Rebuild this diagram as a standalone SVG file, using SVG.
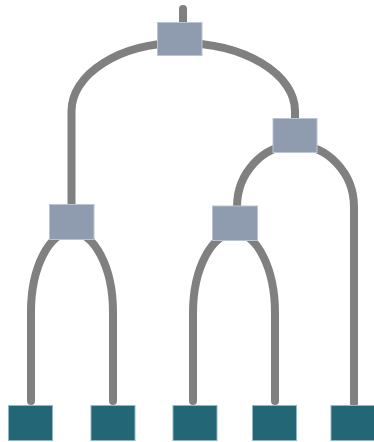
<svg xmlns="http://www.w3.org/2000/svg" width="374" height="442" viewBox="0 0 374 442">
<style>
.edge{fill:none;stroke:#808080;stroke-width:8;stroke-linecap:round}
.inner{fill:#8f9bae;stroke:#bcc4d2;stroke-width:1}
.leaf{fill:#236676;stroke:#8fb8c4;stroke-width:1}
</style>
<rect width="374" height="442" fill="#ffffff"/>
<g id="connectors">
<path class="edge" d="M183 9 L183 24"/>
<path class="edge" d="M180 43 A109 68 0 0 0 71.5 111 L71.5 206"/>
<path class="edge" d="M180 43 A115 68 0 0 1 295 111 L295 120"/>
<path class="edge" d="M295 145 A58 62 0 0 0 237 207 L237 208"/>
<path class="edge" d="M295 145 A59 62 0 0 1 354 207 L354 403"/>
<path class="edge" d="M71.5 232 A40.5 80 0 0 0 31 312 L31 401"/>
<path class="edge" d="M71.5 232 A41.5 80 0 0 1 113 312 L113 401"/>
<path class="edge" d="M235 233 A42 80 0 0 0 193 313 L193 401"/>
<path class="edge" d="M235 233 A40 80 0 0 1 275 313 L275 401"/>
</g>
<g id="node-root"><rect class="inner" x="157.5" y="22.5" width="44.5" height="33"/></g>
<g id="node-right"><rect class="inner" x="273" y="118.5" width="44" height="34"/></g>
<g id="node-left"><rect class="inner" x="49.5" y="204.5" width="44.5" height="35"/></g>
<g id="node-mid"><rect class="inner" x="212.5" y="206" width="45" height="34.5"/></g>
<g id="leaf-1"><rect class="leaf" x="8.5" y="405.5" width="44" height="35"/></g>
<g id="leaf-2"><rect class="leaf" x="91" y="405.5" width="44" height="35"/></g>
<g id="leaf-3"><rect class="leaf" x="173" y="405.5" width="44" height="35"/></g>
<g id="leaf-4"><rect class="leaf" x="252.5" y="405.5" width="44" height="35"/></g>
<g id="leaf-5"><rect class="leaf" x="331" y="405.5" width="44" height="35"/></g>
</svg>
